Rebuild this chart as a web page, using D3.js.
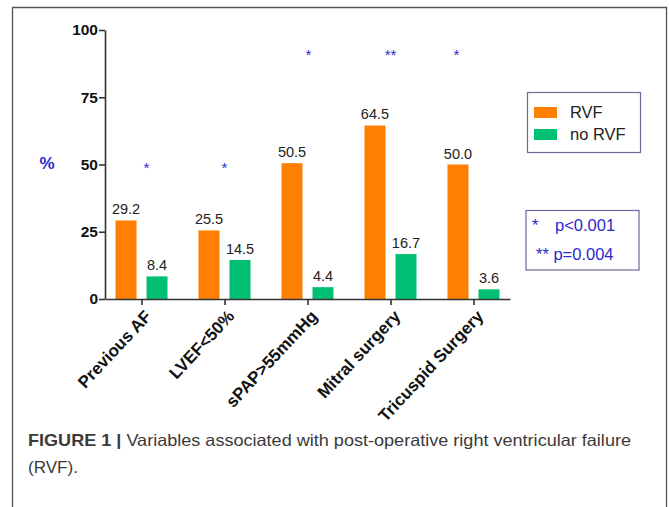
<!DOCTYPE html>
<html><head><meta charset="utf-8">
<script src="https://cdn.jsdelivr.net/npm/d3@7"></script>
<style>html,body{margin:0;padding:0;background:#fff;}svg{display:block;}</style>
</head><body>
<svg id="c" width="669" height="507"></svg>
<script>
const categories = ["Previous AF", "LVEF<50%", "sPAP>55mmHg", "Mitral surgery", "Tricuspid Surgery"];
const rvf = [29.2, 25.5, 50.5, 64.5, 50.0];
const noRvf = [8.4, 14.5, 4.4, 16.7, 3.6];
const significance = ["*", "*", "*", "**", "*"];
const sigLevel = [50, 50, 92, 92, 92];
const yTicks = [0, 25, 50, 75, 100];
const seriesNames = ["RVF", "no RVF"];
const pNotes = [["*", "p<0.001"], ["**", "p=0.004"]];

const colors = ["#FF8000", "#00BF73"];
const blue = "#2A2ACF";
const starDx = [5, 0, 1, 0, -17];
const svg = d3.select("#c");
const font = "'Liberation Sans', Arial, Helvetica, sans-serif";

// frame
svg.append("path").attr("d", "M12.5,520 V7.5 H666.5 V520").attr("fill", "none").attr("stroke", "#555").attr("stroke-width", 1.3);

const y = d3.scaleLinear().domain([0, 100]).range([299, 30]);
const x = d3.scalePoint().domain(categories).range([105, 510]).padding(0.44);

// y axis
const ya = svg.append("g").attr("transform", "translate(105,0)")
  .call(d3.axisLeft(y).tickValues(yTicks).tickSize(6).tickSizeOuter(0));
ya.select(".domain").attr("stroke", "#333").attr("stroke-width", 1.6);
ya.selectAll(".tick line").attr("stroke", "#333").attr("stroke-width", 1.6);
ya.selectAll(".tick text").attr("font-family", font).attr("font-weight", "bold").attr("font-size", 15.5).attr("fill", "#111").attr("x", -7);

// bars
const off = 15.5, bw = 21;
[rvf, noRvf].forEach((vals, si) => {
  const dx = si === 0 ? -off : off;
  svg.append("g").selectAll("rect").data(vals).join("rect")
    .attr("x", (d, i) => x(categories[i]) + dx - bw / 2)
    .attr("width", bw)
    .attr("y", d => y(d))
    .attr("height", d => y(0) - y(d))
    .attr("fill", colors[si]);
  svg.append("g").selectAll("text").data(vals).join("text")
    .attr("x", (d, i) => x(categories[i]) + dx)
    .attr("y", d => y(d) - 6)
    .attr("text-anchor", "middle")
    .attr("font-family", font).attr("font-size", 14.5).attr("fill", "#222")
    .text(d => d.toFixed(1));
});

// x axis
const xa = svg.append("g").attr("transform", "translate(0,299)")
  .call(d3.axisBottom(x).tickSize(6).tickSizeOuter(0));
xa.select(".domain").attr("stroke", "#333").attr("stroke-width", 1.6);
xa.selectAll(".tick line").attr("stroke", "#333").attr("stroke-width", 1.6);
xa.selectAll(".tick text")
  .attr("font-family", font).attr("font-weight", "bold").attr("font-size", 17).attr("fill", "#111")
  .attr("text-anchor", "end").attr("dy", "0.35em")
  .attr("transform", "translate(6,14) rotate(-47)").attr("x", 0).attr("y", 0);

// significance stars
svg.append("g").selectAll("text").data(significance).join("text")
  .attr("x", (d, i) => x(categories[i]) + starDx[i])
  .attr("y", (d, i) => y(sigLevel[i]) + 8)
  .attr("text-anchor", "middle")
  .attr("font-family", font).attr("font-size", 15).attr("fill", blue)
  .text(d => d);

// % label
svg.append("text").attr("x", 47).attr("y", 169).attr("text-anchor", "middle")
  .attr("font-family", font).attr("font-weight", "bold").attr("font-size", 17).attr("fill", blue).text("%");

// legend
const lg = svg.append("g");
lg.append("rect").attr("x", 527.5).attr("y", 92.5).attr("width", 113).attr("height", 60)
  .attr("fill", "none").attr("stroke", "#6a6a9a").attr("stroke-width", 1.2);
seriesNames.forEach((n, i) => {
  lg.append("rect").attr("x", 534).attr("y", 107 + i * 22).attr("width", 23).attr("height", 11).attr("fill", colors[i]);
  lg.append("text").attr("x", 570).attr("y", 118 + i * 22).attr("font-family", font).attr("font-size", 16.5).attr("fill", "#222").text(n);
});

// p-value box
const pb = svg.append("g");
pb.append("rect").attr("x", 526).attr("y", 210.5).attr("width", 113).attr("height", 59.5)
  .attr("fill", "none").attr("stroke", "#6a6a9a").attr("stroke-width", 1.2);
pb.append("text").attr("x", 532).attr("y", 231).attr("font-family", font).attr("font-size", 16.5).attr("fill", blue).text(pNotes[0][0]);
pb.append("text").attr("x", 555).attr("y", 231).attr("font-family", font).attr("font-size", 16.5).attr("fill", blue).text(pNotes[0][1]);
pb.append("text").attr("x", 536).attr("y", 260).attr("font-family", font).attr("font-size", 16.5).attr("fill", blue).text(pNotes[1][0] + " " + pNotes[1][1]);

// caption
const cap = svg.append("text").attr("x", 28).attr("y", 446).attr("font-family", font).attr("font-size", 16.5).attr("fill", "#3a3a3a");
cap.append("tspan").attr("font-weight", "bold").text("FIGURE 1 | ");
cap.append("tspan").text("Variables associated with post-operative right ventricular failure");
const capW = cap.node().getComputedTextLength();
if (capW > 0) cap.attr("textLength", 603).attr("lengthAdjust", "spacingAndGlyphs");
svg.append("text").attr("x", 28).attr("y", 473).attr("font-family", font).attr("font-size", 16.5).attr("fill", "#3a3a3a")
  .attr("textLength", 50).attr("lengthAdjust", "spacingAndGlyphs").text("(RVF).");
</script>
</body></html>
